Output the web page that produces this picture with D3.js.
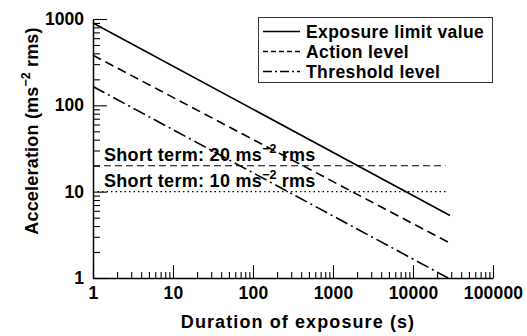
<!DOCTYPE html>
<html>
<head>
<meta charset="utf-8">
<script src="https://cdn.jsdelivr.net/npm/d3@7"></script>
<style>
  html, body { margin: 0; padding: 0; background: #fff; }
  svg { display: block; }
  text { font-family: "Liberation Sans", Arial, Helvetica, sans-serif; font-weight: bold; fill: #000; }
</style>
</head>
<body>
<svg id="chart" width="527" height="336"></svg>
<script>
// Vibration exposure levels versus daily exposure duration (log-log)
const seriesNames = ["Exposure limit value", "Action level", "Threshold level"];
const limitDurations = [1, 29000];
const limitValues = [900, 5.3];
const actionDurations = [1, 27500];
const actionValues = [380, 2.6];
const thresholdDurations = [1, 27500];
const thresholdValues = [165, 1];

const shortTermLabels = ["Short term: 20 ms", "Short term: 10 ms"];
const shortTermValues = [20, 10];
const shortTermDurations = [1, 25500];

const xTickValues = [1, 10, 100, 1000, 10000, 100000];
const xTickLabels = ["1", "10", "100", "1000", "10000", "100000"];
const yTickValues = [1, 10, 100, 1000];
const yTickLabels = ["1", "10", "100", "1000"];

const svg = d3.select("#chart");

const x = d3.scaleLog().domain([1, 100000]).range([93, 493]);
const y = d3.scaleLog().domain([1, 1000]).range([278, 19]);

// minor tick positions (2..9 within each decade)
const minorX = [];
for (let p = 0; p < 5; p++) for (let m = 2; m <= 9; m++) minorX.push(m * Math.pow(10, p));
const minorY = [];
for (let p = 0; p < 3; p++) for (let m = 2; m <= 9; m++) minorY.push(m * Math.pow(10, p));

// x axis: minor ticks, then major ticks with labels
const gx = svg.append("g").attr("transform", `translate(0,${y(1)})`);
gx.append("g")
  .call(d3.axisBottom(x).tickValues(minorX).tickSizeInner(-6).tickSizeOuter(0).tickFormat(""))
  .call(g => g.select(".domain").remove());
gx.append("g")
  .call(d3.axisBottom(x).tickValues(xTickValues).tickSizeInner(-13).tickSizeOuter(0)
    .tickPadding(9).tickFormat((d, i) => xTickLabels[i]))
  .call(g => g.selectAll("text").style("font-size", "17.5px").style("letter-spacing", "0.2px")
    .attr("font-family", null).attr("font-size", null));
gx.selectAll("line").attr("stroke", "#000").attr("stroke-width", 1.1);
gx.selectAll(".domain").attr("stroke", "#000").attr("stroke-width", 1.5);

// y axis
const gy = svg.append("g").attr("transform", `translate(${x(1)},0)`);
gy.append("g")
  .call(d3.axisLeft(y).tickValues(minorY).tickSizeInner(-7).tickSizeOuter(0).tickFormat(""))
  .call(g => g.select(".domain").remove());
gy.append("g")
  .call(d3.axisLeft(y).tickValues(yTickValues).tickSizeInner(-14).tickSizeOuter(0)
    .tickPadding(9).tickFormat((d, i) => yTickLabels[i]))
  .call(g => g.selectAll("text").style("font-size", "17.5px").style("letter-spacing", "0px")
    .attr("font-family", null).attr("font-size", null));
gy.selectAll("line").attr("stroke", "#000").attr("stroke-width", 1.1);
gy.selectAll(".domain").attr("stroke", "#000").attr("stroke-width", 1.5);

// short-term horizontal limits
const shortDash = ["7,4", "1.5,3"];
shortTermValues.forEach((v, i) => {
  svg.append("line")
    .attr("x1", x(shortTermDurations[0])).attr("x2", x(shortTermDurations[1]))
    .attr("y1", y(v)).attr("y2", y(v))
    .attr("stroke", "#000").attr("stroke-width", 1.1)
    .attr("stroke-dasharray", shortDash[i]);
});

// exposure lines
const seriesData = [
  { d: limitDurations, v: limitValues, dash: null },
  { d: actionDurations, v: actionValues, dash: "9,5" },
  { d: thresholdDurations, v: thresholdValues, dash: "13,4,2,4" }
];
const line = d3.line().x(p => x(p[0])).y(p => y(p[1]));
seriesData.forEach(s => {
  svg.append("path")
    .attr("d", line(s.d.map((t, i) => [t, s.v[i]])))
    .attr("fill", "none").attr("stroke", "#000").attr("stroke-width", 1.6)
    .attr("stroke-dasharray", s.dash);
});

// short-term labels
shortTermValues.forEach((v, i) => {
  const t = svg.append("text")
    .attr("x", 104).attr("y", y(v) - 5)
    .style("font-size", "18px").style("letter-spacing", "0.3px");
  t.append("tspan").text(shortTermLabels[i]);
  t.append("tspan").attr("dy", -8).style("font-size", "12.5px").style("letter-spacing", "0px").text("\u22122");
  t.append("tspan").attr("dy", 8).text(" rms");
});

// legend
const legend = svg.append("g");
legend.append("rect")
  .attr("x", 258.5).attr("y", 17.5).attr("width", 234).attr("height", 65)
  .attr("fill", "#fff").attr("stroke", "#333").attr("stroke-width", 1);
const legendDash = [null, "5,3", "9,3,2,3"];
seriesNames.forEach((name, i) => {
  const by = 37.5 + i * 20;
  legend.append("line")
    .attr("x1", 263).attr("x2", 300).attr("y1", by - 6).attr("y2", by - 6)
    .attr("stroke", "#000").attr("stroke-width", 1.5)
    .attr("stroke-dasharray", legendDash[i]);
  legend.append("text")
    .attr("x", 306).attr("y", by)
    .style("font-size", "17.5px").style("letter-spacing", "0.4px")
    .text(name);
});

// axis titles
svg.append("text")
  .attr("x", 298).attr("y", 328).attr("text-anchor", "middle")
  .style("font-size", "18px").style("letter-spacing", "1.1px")
  .text("Duration of exposure (s)");

const yt = svg.append("text")
  .attr("transform", "translate(38,131) rotate(-90)")
  .attr("text-anchor", "middle")
  .style("font-size", "18px").style("letter-spacing", "0.2px");
yt.append("tspan").text("Acceleration (ms");
yt.append("tspan").attr("dy", -8).style("font-size", "12.5px").style("letter-spacing", "0px").text("\u22122");
yt.append("tspan").attr("dy", 8).text(" rms)");
</script>
</body>
</html>
